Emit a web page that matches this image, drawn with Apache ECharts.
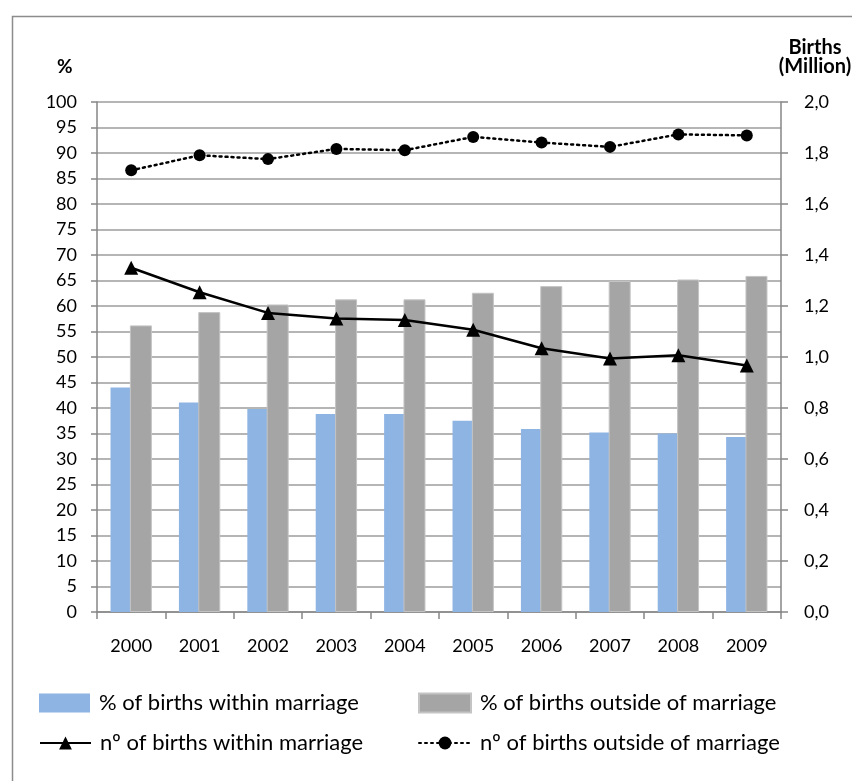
<!DOCTYPE html>
<html>
<head>
<meta charset="utf-8">
<script src="https://cdn.jsdelivr.net/npm/echarts@6/dist/echarts.min.js"></script>
<style>
html,body{margin:0;padding:0;background:#fff;}
#c{width:852px;height:781px;}
</style>
</head>
<body>
<div id="c"></div>
<script>
var years = ['2000','2001','2002','2003','2004','2005','2006','2007','2008','2009'];
var pctWithin = [44.0, 41.1, 39.8, 38.8, 38.8, 37.5, 35.9, 35.2, 35.0, 34.3];
var pctOutside = [56.2, 58.8, 60.3, 61.3, 61.3, 62.6, 63.9, 64.9, 65.2, 65.9];
var numWithin = [1.35, 1.254, 1.173, 1.151, 1.145, 1.107, 1.034, 0.994, 1.007, 0.967];
var numOutside = [1.732, 1.791, 1.776, 1.816, 1.811, 1.863, 1.841, 1.824, 1.873, 1.869];
var seriesNames = ['% of births within marriage', '% of births outside of marriage',
                   'nº of births within marriage', 'nº of births outside of marriage'];

var FONT = 'Lato';
var chart = echarts.init(document.getElementById('c'), null, {renderer: 'canvas'});
var legendText = {fontFamily: FONT, fontSize: 22, color: '#000', padding: [0, 0, 0, 4]};
chart.setOption({
  animation: false,
  backgroundColor: '#fff',
  grid: {left: 97, right: 71, top: 102, bottom: 169, containLabel: false},
  legend: [
    {left: 39, top: 692, itemWidth: 51, itemHeight: 19, itemGap: 0, textStyle: legendText, padding: 0,
     data: [{name: seriesNames[0], icon: 'rect'}]},
    {left: 418, top: 692, itemWidth: 52, itemHeight: 19, itemGap: 0, textStyle: legendText, padding: 0,
     data: [{name: seriesNames[1], icon: 'rect'}]},
    {left: 39, top: 732, itemWidth: 51, itemHeight: 16, itemGap: 0, textStyle: legendText, padding: 0,
     data: [{name: seriesNames[2]}]},
    {left: 418, top: 732, itemWidth: 52, itemHeight: 16, itemGap: 0, textStyle: legendText, padding: 0,
     data: [{name: seriesNames[3]}]}
  ],
  xAxis: {
    type: 'category', data: years, boundaryGap: true,
    axisLine: {lineStyle: {color: '#868686', width: 1.5}},
    axisTick: {show: true, alignWithLabel: false, length: 7, lineStyle: {color: '#868686', width: 1.5}},
    axisLabel: {fontFamily: FONT, fontSize: 18, color: '#000', margin: 25}
  },
  yAxis: [
    {
      type: 'value', min: 0, max: 100, interval: 5,
      axisLine: {show: true, lineStyle: {color: '#868686', width: 1.5}},
      axisTick: {show: true, length: 6, lineStyle: {color: '#868686', width: 1.5}},
      axisLabel: {fontFamily: FONT, fontSize: 18, color: '#000', margin: 20},
      splitLine: {show: true, lineStyle: {color: '#9c9c9c', width: 1.5}}
    },
    {
      type: 'value', min: 0, max: 2, interval: 0.2, position: 'right',
      axisLine: {show: true, lineStyle: {color: '#868686', width: 1.5}},
      axisTick: {show: true, length: 7, lineStyle: {color: '#868686', width: 1.5}},
      axisLabel: {fontFamily: FONT, fontSize: 18, color: '#000', margin: 23,
        formatter: function (v) { return v.toFixed(1).replace('.', ','); }},
      splitLine: {show: false}
    }
  ],
  series: [
    {name: seriesNames[0], type: 'bar', yAxisIndex: 0, data: pctWithin,
     barWidth: 22, barGap: '-12%', itemStyle: {color: '#8EB4E3'}, z: 2},
    {name: seriesNames[1], type: 'bar', yAxisIndex: 0, data: pctOutside,
     barWidth: 22, itemStyle: {color: '#A5A5A5', borderColor: '#C4C4C4', borderWidth: 1}, z: 3},
    {name: seriesNames[2], type: 'line', yAxisIndex: 1, data: numWithin,
     symbol: 'triangle', symbolSize: 14, z: 5,
     lineStyle: {color: '#000', width: 2.5}, itemStyle: {color: '#000'}},
    {name: seriesNames[3], type: 'line', yAxisIndex: 1, data: numOutside,
     symbol: 'circle', symbolSize: 12, z: 5,
     lineStyle: {color: '#000', width: 2.5, type: [2, 4], cap: 'round'}, itemStyle: {color: '#000'}}
  ],
  graphic: [
    {type: 'rect', left: 10, top: 14, shape: {width: 900, height: 800},
     style: {fill: 'none', stroke: '#8c8c8c', lineWidth: 1.5}, silent: true, z: -1},
    {type: 'text', x: 57, y: 67, style: {text: '%', font: 'bold 19px ' + FONT, fill: '#000', verticalAlign: 'middle'}},
    {type: 'text', x: 815, y: 48, style: {text: 'Births', font: 'bold 20px ' + FONT, fill: '#000', align: 'center', verticalAlign: 'middle'}},
    {type: 'text', x: 815, y: 67, style: {text: '(Million)', font: 'bold 20px ' + FONT, fill: '#000', align: 'center', verticalAlign: 'middle'}}
  ]
});
</script>
</body>
</html>
